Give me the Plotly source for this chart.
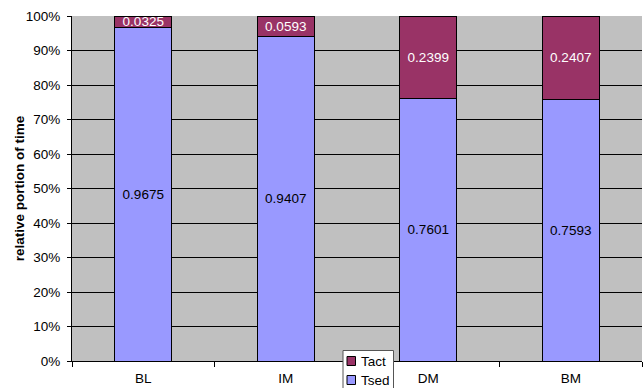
import plotly.graph_objects as go

categories = ["BL", "IM", "DM", "BM"]
tsed = [0.9675, 0.9407, 0.7601, 0.7593]
tact = [0.0325, 0.0593, 0.2399, 0.2407]
y_ticks = [i / 10 for i in range(11)]
y_title = "relative portion of time"

FONT = "Liberation Sans, Arial, sans-serif"
FS = 13.5
W, H = 644, 388
L, R, T, B = 72, 2, 16, 27
PW, PH = W - L - R, H - T - B

TSED_COLOR = "#9999FF"
TACT_COLOR = "#993366"


def px_x(x):
    return (x - L) / PW


def px_y(y):
    return (H - B - y) / PH


series = [
    ("Tsed", tsed, TSED_COLOR, "#000000"),
    ("Tact", tact, TACT_COLOR, "#FFFFFF"),
]

fig = go.Figure()
for name, vals, color, txt_color in series:
    fig.add_trace(go.Bar(
        x=categories, y=vals, name=name,
        marker=dict(color=color, line=dict(color="#000000", width=1)),
        text=[f"{v:.4f}" for v in vals], textposition="inside",
        insidetextanchor="middle", textangle=0,
        textfont=dict(color=txt_color, size=FS, family=FONT),
        width=0.4,
    ))

# Compact boxed legend in the bottom margin (Tact on top, Tsed below)
shapes = [dict(
    type="rect", xref="paper", yref="paper",
    x0=px_x(343), x1=px_x(393.5), y0=px_y(392), y1=px_y(350.5),
    fillcolor="#FFFFFF", line=dict(color="#555555", width=1), layer="above",
)]
annotations = []
for (name, _, color, _), yc in zip(series[::-1], [361, 380]):
    shapes.append(dict(
        type="rect", xref="paper", yref="paper",
        x0=px_x(347), x1=px_x(355.5), y0=px_y(yc + 4.5), y1=px_y(yc - 4.5),
        fillcolor=color, line=dict(color="#000000", width=1), layer="above",
    ))
    annotations.append(dict(
        text=name, xref="paper", yref="paper", x=px_x(358.5), y=px_y(yc),
        xanchor="left", yanchor="middle", showarrow=False,
        font=dict(size=FS, family=FONT, color="#000000"),
    ))

annotations.append(dict(
    text=f"<b>{y_title}</b>", xref="paper", yref="paper",
    x=px_x(19.7), y=0.5, xanchor="center", yanchor="middle",
    textangle=-90, showarrow=False,
    font=dict(size=FS, family=FONT, color="#000000"),
))

fig.update_layout(
    width=W, height=H,
    margin=dict(l=L, r=R, t=T, b=B),
    barmode="stack",
    plot_bgcolor="#C0C0C0",
    paper_bgcolor="#FFFFFF",
    font=dict(family=FONT, size=FS, color="#000000"),
    uniformtext=dict(minsize=FS, mode="show"),
    showlegend=False,
    shapes=shapes,
    annotations=annotations,
)
fig.update_yaxes(
    range=[0, 1], tickvals=y_ticks, tickformat=".0%",
    showgrid=True, gridcolor="#000000", gridwidth=1,
    showline=True, linecolor="#000000", linewidth=1,
    ticks="outside", ticklen=4, tickcolor="#000000",
    ticklabelstandoff=4,
    zeroline=False, fixedrange=True, automargin=False,
)
fig.update_xaxes(
    showline=True, linecolor="#000000", linewidth=1,
    ticks="outside", tickson="boundaries", ticklen=5, tickcolor="#000000",
    ticklabelstandoff=5,
    showgrid=False, fixedrange=True, automargin=False,
)

fig.write_html("out.html")
